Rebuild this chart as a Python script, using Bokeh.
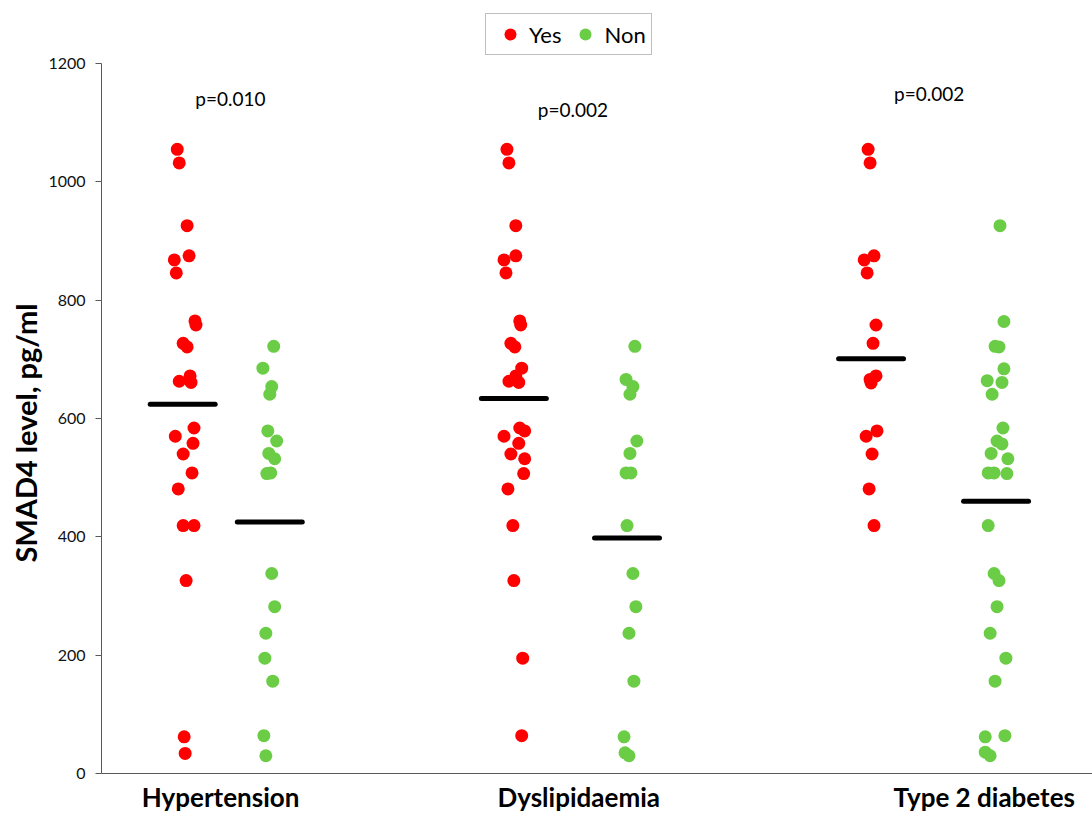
from bokeh.plotting import figure
from bokeh.models import Range1d, FixedTicker, Legend, LegendItem, Label, Title, ColumnDataSource
from bokeh.embed import file_html
from bokeh.resources import INLINE

# ---------------- data ----------------
categories = ["Hypertension", "Dyslipidaemia", "Type 2 diabetes"]
category_x = [1.21, 4.85, 8.97]
p_labels = ["p=0.010", "p=0.002", "p=0.002"]
p_x = [1.31, 4.79, 8.41]
p_y = [1141, 1122, 1149]
y_ticks = [0, 200, 400, 600, 800, 1000, 1200]
y_title = "SMAD4 level, pg/ml"

hyp_yes_x = [0.77, 0.79, 0.87, 0.74, 0.89, 0.76, 0.95, 0.96, 0.83, 0.87, 0.90, 0.79,
             0.91, 0.94, 0.75, 0.93, 0.83, 0.92, 0.78, 0.83, 0.94, 0.86, 0.84, 0.85]
hyp_yes_y = [1055, 1032, 926, 868, 875, 846, 765, 758, 727, 721, 672, 663,
             661, 584, 570, 558, 540, 508, 481, 419, 419, 326, 62, 34]
hyp_non_x = [1.75, 1.64, 1.73, 1.71, 1.69, 1.78, 1.70, 1.76, 1.68, 1.72, 1.73, 1.76,
             1.67, 1.66, 1.74, 1.65, 1.67]
hyp_non_y = [722, 685, 654, 641, 579, 562, 541, 532, 507, 508, 338, 282,
             237, 195, 156, 64, 30]

dys_yes_x = [4.12, 4.14, 4.21, 4.09, 4.21, 4.11, 4.25, 4.26, 4.16, 4.20, 4.27, 4.21, 4.14,
             4.24, 4.25, 4.30, 4.09, 4.24, 4.16, 4.30, 4.29, 4.13, 4.18, 4.19, 4.28, 4.27]
dys_yes_y = [1055, 1032, 926, 868, 875, 846, 765, 758, 727, 721, 685, 672, 663,
             661, 584, 579, 570, 558, 540, 532, 507, 481, 419, 326, 195, 64]
dys_non_x = [5.42, 5.33, 5.40, 5.37, 5.44, 5.37, 5.33, 5.38, 5.34, 5.40, 5.43, 5.36,
             5.41, 5.31, 5.32, 5.36]
dys_non_y = [722, 666, 654, 641, 562, 541, 508, 508, 419, 338, 282, 237,
             156, 62, 35, 30]

t2d_yes_x = [7.79, 7.81, 7.75, 7.85, 7.78, 7.87, 7.84, 7.87, 7.81, 7.82, 7.88, 7.77,
             7.83, 7.80, 7.85]
t2d_yes_y = [1055, 1032, 868, 875, 846, 758, 727, 672, 666, 660, 579, 570,
             540, 481, 419]
t2d_non_x = [9.13, 9.17, 9.08, 9.12, 9.17, 9.00, 9.15, 9.05, 9.16, 9.10, 9.15, 9.04,
             9.21, 9.01, 9.07, 9.20, 9.01, 9.07, 9.12, 9.10, 9.03, 9.19, 9.08, 8.98,
             9.18, 8.98, 9.03]
t2d_non_y = [926, 764, 722, 721, 684, 664, 661, 641, 584, 562, 557, 541,
             532, 508, 508, 507, 419, 338, 326, 282, 237, 195, 156, 62,
             64, 36, 30]

mean_x = [0.825, 1.71, 4.19, 5.34, 7.82, 9.09]
mean_y = [624, 425, 634, 398, 701, 460]

# ---------------- styling ----------------
RED = "#FF0000"
GREEN = "#6ACD45"
FONT = "Lato"
HALF = 0.33

# frame runs to the top of the canvas; the axis itself stops at 1200
p = figure(width=1092, height=816, output_backend="svg", toolbar_location=None,
           x_range=Range1d(0, 10.07), y_range=Range1d(0, 1306.5),
           min_border_left=101, min_border_right=0, min_border_top=0,
           min_border_bottom=43, outline_line_color=None)
p.grid.visible = False

yes_src = ColumnDataSource(dict(x=hyp_yes_x + dys_yes_x + t2d_yes_x,
                                y=hyp_yes_y + dys_yes_y + t2d_yes_y))
non_src = ColumnDataSource(dict(x=hyp_non_x + dys_non_x + t2d_non_x,
                                y=hyp_non_y + dys_non_y + t2d_non_y))
r_yes = p.scatter("x", "y", source=yes_src, size=13, fill_color=RED, line_color=None)
r_non = p.scatter("x", "y", source=non_src, size=13, fill_color=GREEN, line_color=None)

p.segment(x0=[m - HALF for m in mean_x], y0=mean_y,
          x1=[m + HALF for m in mean_x], y1=mean_y,
          line_color="black", line_width=5, line_cap="round")

# y axis
yax = p.yaxis[0]
yax.ticker = FixedTicker(ticks=y_ticks)
yax.bounds = (0, 1200)
yax.major_label_text_font = FONT
yax.major_label_text_font_size = "16px"
yax.major_label_text_color = "#111111"
yax.major_label_standoff = 10
yax.major_tick_out = 6
yax.major_tick_in = 0
yax.minor_tick_out = 0
yax.minor_tick_in = 0
yax.axis_line_color = "#595959"
yax.major_tick_line_color = "#595959"

# y-axis title, placed along the 0..1200 span of the axis
p.add_layout(Title(text=y_title, align="left", offset=211,
                   text_font=FONT, text_font_style="bold", text_font_size="29px",
                   text_color="black", standoff=6), "left")

# x axis: line plus category names
xax = p.xaxis[0]
xax.ticker = FixedTicker(ticks=category_x)
xax.major_label_overrides = {cx: name for cx, name in zip(category_x, categories)}
xax.major_tick_out = 0
xax.major_tick_in = 0
xax.minor_tick_out = 0
xax.minor_tick_in = 0
xax.major_label_text_font = FONT
xax.major_label_text_font_style = "bold"
xax.major_label_text_font_size = "26px"
xax.major_label_text_line_height = 0.9
xax.major_label_standoff = 7
xax.major_label_text_color = "black"
xax.axis_line_color = "#595959"

for px_, py_, t in zip(p_x, p_y, p_labels):
    p.add_layout(Label(x=px_, y=py_, text=t, text_font=FONT,
                       text_font_size="19px", text_align="center",
                       text_baseline="middle", text_color="black"))

legend = Legend(items=[LegendItem(label="Yes", renderers=[r_yes]),
                       LegendItem(label="Non", renderers=[r_non])],
                orientation="horizontal", location=(384, 718))
legend.label_text_font = FONT
legend.label_text_font_size = "22px"
legend.label_text_color = "black"
legend.border_line_color = "#7f7f7f"
legend.border_line_width = 1
legend.padding = 5
legend.spacing = 5
legend.margin = 0
legend.glyph_width = 38
legend.glyph_height = 30
legend.label_standoff = 0
p.add_layout(legend)

open("out.html", "w").write(file_html(p, INLINE))
